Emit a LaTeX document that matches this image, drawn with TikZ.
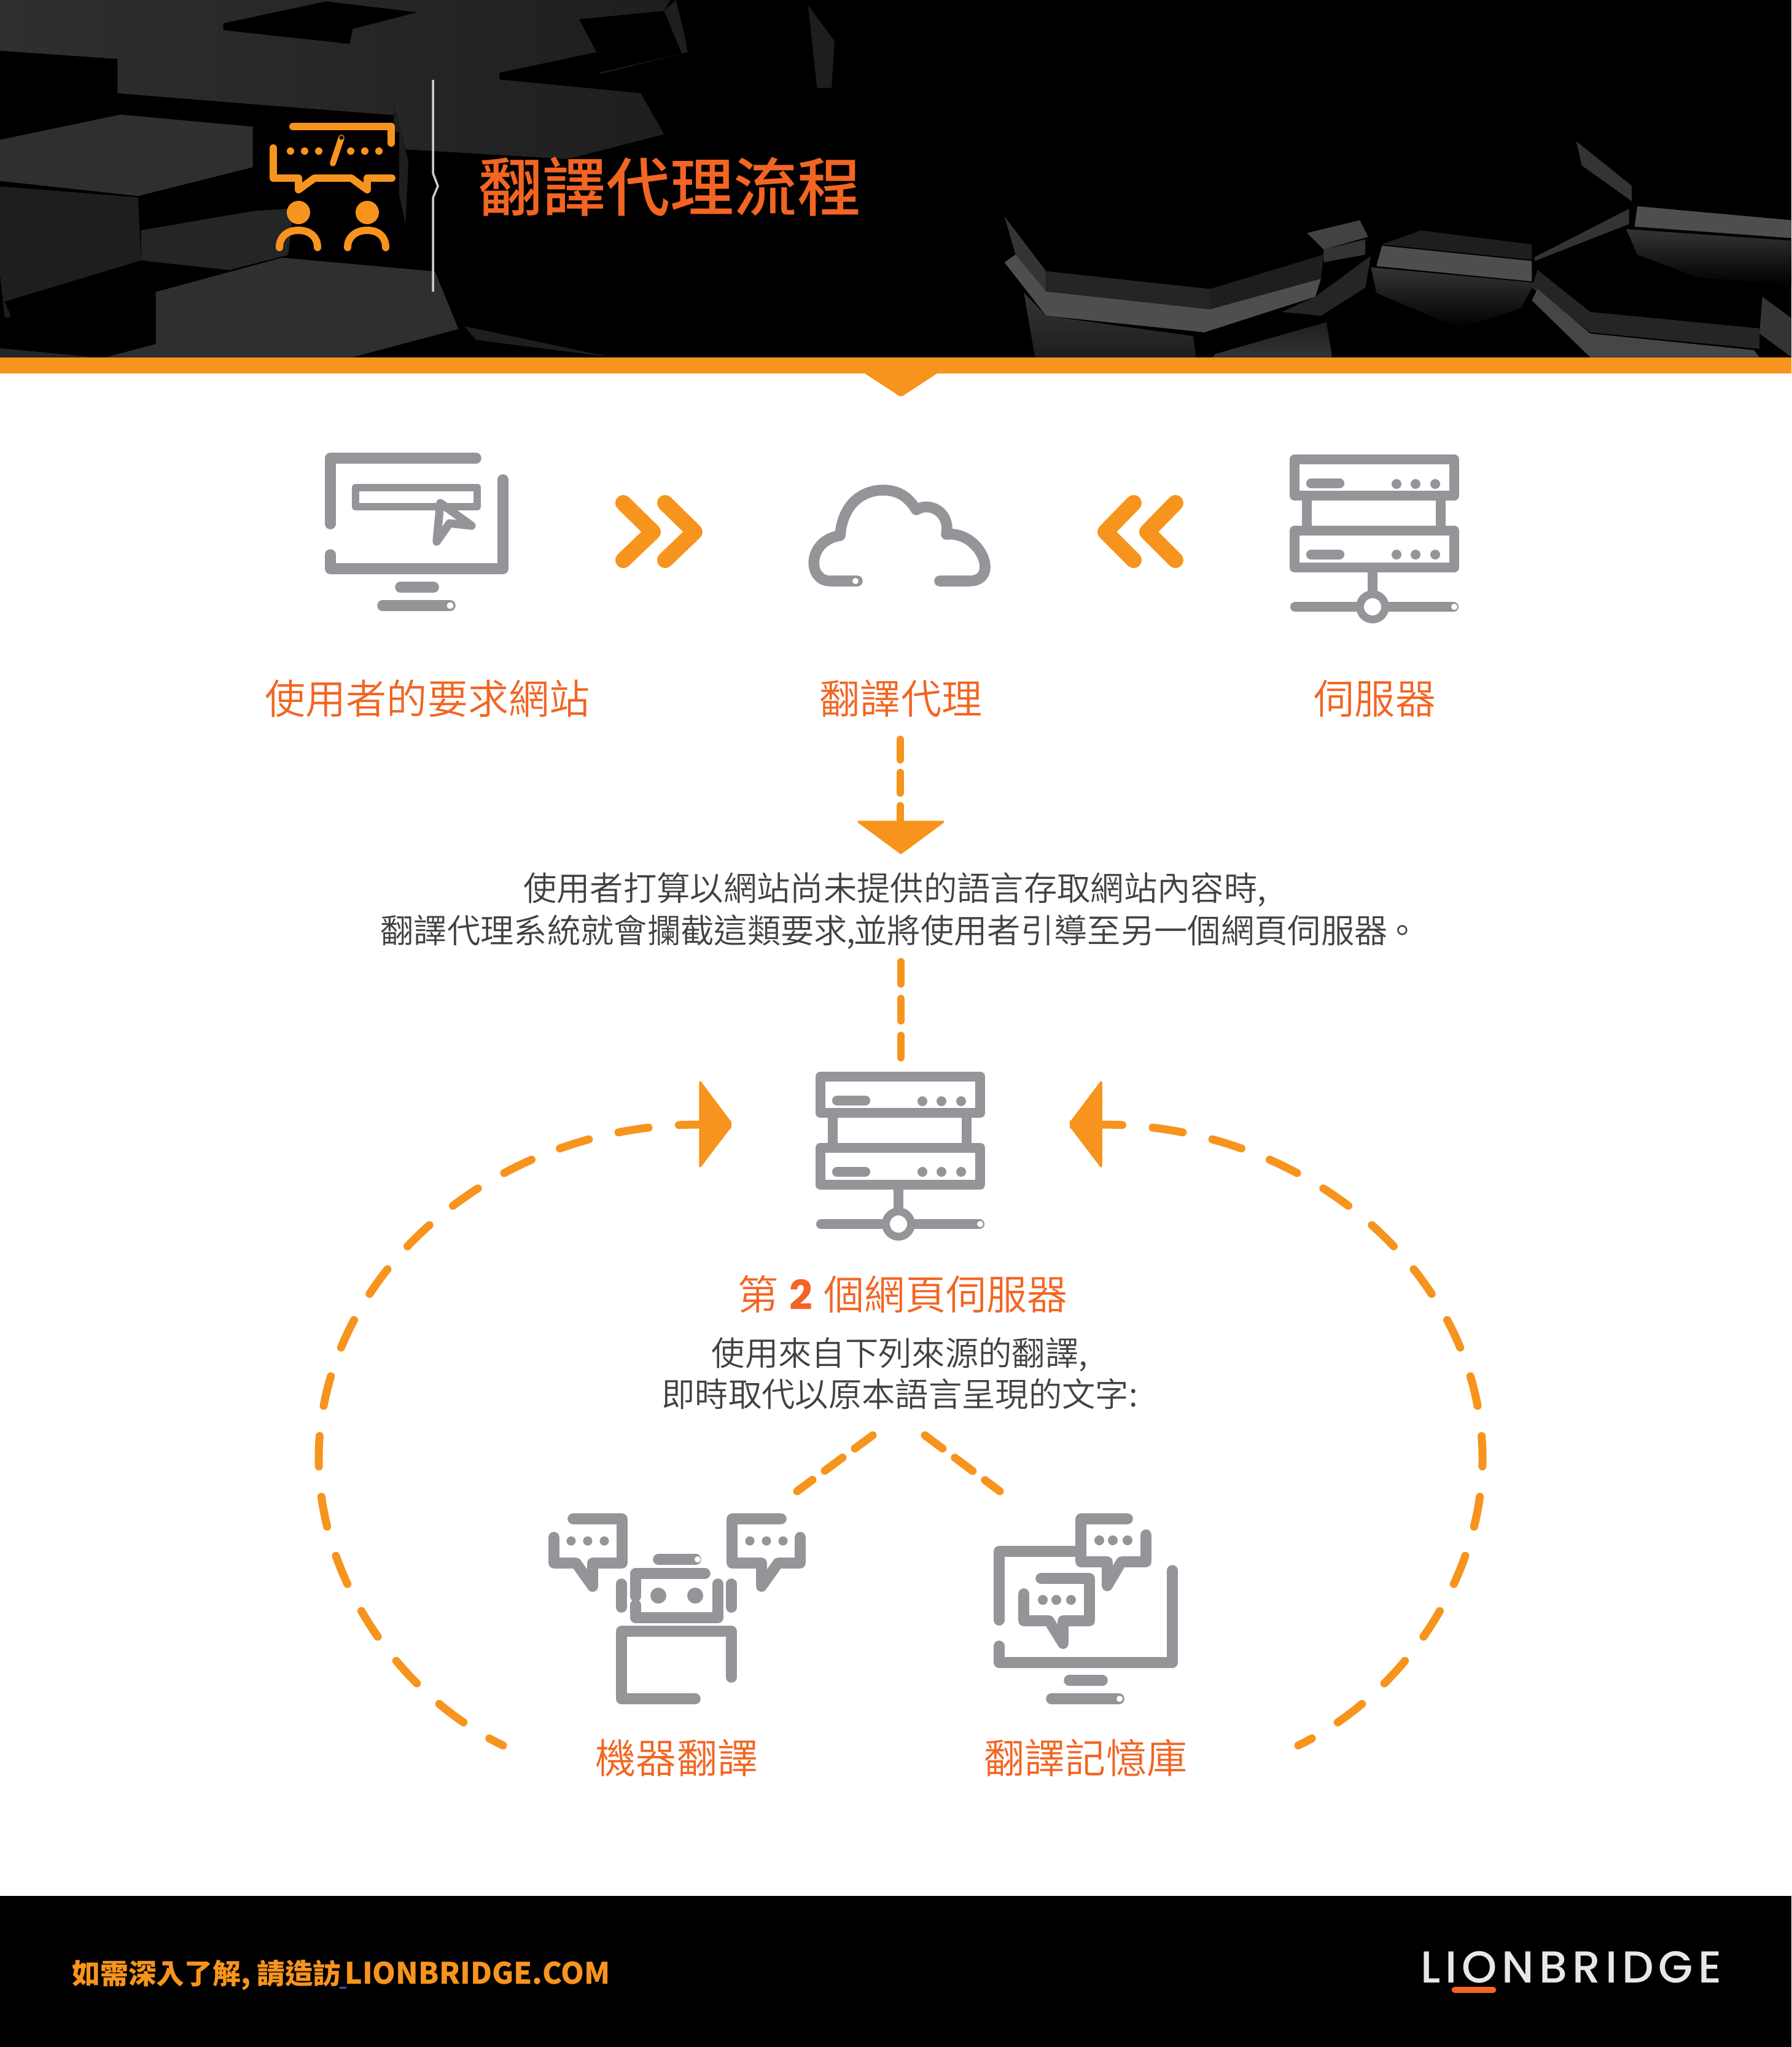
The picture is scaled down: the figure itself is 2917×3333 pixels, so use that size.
\documentclass[tikz,border=0pt]{standalone}
\usepackage{fontspec}
\setmainfont{Noto Sans CJK TC DemiLight}
\newfontfamily\boldcjk{Noto Sans CJK TC}
\newfontfamily\titlefont{Noto Sans CJK TC Medium}
\newfontfamily\lionfont[LetterSpace=11]{Poppins Medium}
\newfontfamily\latinbold{Poppins}
\definecolor{ora}{HTML}{F7941D}
\definecolor{rust}{HTML}{F26522}
\definecolor{gry}{HTML}{939598}
\definecolor{ink}{HTML}{414042}
\definecolor{logow}{HTML}{E6E7E8}
\definecolor{hexa}{HTML}{2E2F30}
\definecolor{hexb}{HTML}{242526}
\definecolor{hexc}{HTML}{4D4E50}
\definecolor{hexd}{HTML}{333435}
\definecolor{hexe}{HTML}{1E1E1F}
\tikzset{
  iconline/.style={draw=gry,line width=4.6pt,line cap=round,line join=round},
  iconthick/.style={draw=gry,line width=5pt,line cap=round,line join=round},
  logoline/.style={draw=ora,line width=3.4pt,line cap=round,line join=round},
  chev/.style={draw=ora,line width=7.4pt,line cap=round,line join=round},
  dashbase/.style={draw=ora,line cap=round},
  dasharc/.style={dashbase,line width=3.7pt,dash pattern=on 14.1pt off 14.1pt,dash phase=7pt},
  dashdown/.style={dashbase,line width=3.5pt,dash pattern=on 9.39pt off 5.97pt},
  dashstem/.style={dashbase,line width=3.5pt,dash pattern=on 10.24pt off 6.83pt},
  dashfork/.style={dashbase,line width=3.7pt,dash pattern=on 10.24pt off 7.11pt},
  arrowfill/.style={fill=ora,draw=ora,line width=1pt,line join=round},
  labeltext/.style={text=rust,font=\fontsize{18.8pt}{22pt}\selectfont,inner sep=0pt,anchor=center},
  bodytext/.style={text=ink,font=\fontsize{15.45pt}{19.1pt}\selectfont,inner sep=0pt,anchor=center,align=center},
  serverpic/.pic={
    \draw[iconline] (7,8) rectangle (267,67);
    \draw[iconline] (7,124) rectangle (267,184);
    \draw[iconline] (27,67) -- (27,124) (245,67) -- (245,124);
    \draw[iconline] (34,47) -- (80,47) (34,163) -- (80,163);
    \foreach \dx in {173,204,236} {
      \fill[gry] (\dx,48) circle (8);
      \fill[gry] (\dx,163) circle (8);
    }
    \draw[iconline] (134,184) -- (134,225);
    \draw[iconline] (8,248) -- (266,248);
    \fill[gry] (134,248) circle (27);
    \fill[white] (134,248) circle (14);
    \fill[white] (267,248) circle (5);
  }
}
\begin{document}
\begin{tikzpicture}[x=0.01cm,y=-0.01cm]
\useasboundingbox (0,0) rectangle (2917,3333);
\fill[white] (0,0) rectangle (2917,3333);
% ---------- header image
\fill[black] (0,0) rectangle (2917,582);
\begin{scope}
\clip (0,0) rectangle (2917,582);
\begin{scope}[xscale=0.957,yscale=0.4464]
\shade[left color=hexa,right color=hexe]
  (0,0)--(1140,0)--(1130,40)--(985,70)--(1015,190)--(850,265)--(850,290)--(1090,340)--(1130,490)--(965,580)
  --(690,545)--(670,380)--(670,420)--(430,380)--(200,340)--(200,215)--(0,185)--cycle;
\fill[black] (380,85)--(555,5)--(710,45)--(600,105)--(595,160)--(380,110)--cycle;
\fill[hexe] (1020,265)--(1160,195)--(1130,40)--(1150,0)--(1165,130)--(1170,190)--(1020,270)--cycle;
\fill[hexa] (0,510)--(205,418)--(430,462)--(430,610)--(235,715)--(0,660)--cycle;
\fill[hexb] (240,840)--(430,770)--(500,760)--(490,930)--(390,985)--(240,950)--cycle;
\fill[hexe] (8,1160)--(260,1055)--(390,990)--(240,950)--(235,720)--(0,680)--(0,1000)--cycle;
\fill[black] (240,950)--(390,990)--(260,1060)--(20,1160)--(8,1100)--cycle;
\fill[hexa] (265,1065)--(480,940)--(740,990)--(780,1200)--(600,1303)--(180,1303)--(265,1255)--cycle;
\fill[hexb] (0,1270)--(160,1303)--(0,1303)--cycle;
\fill[hexe] (790,1190)--(1040,1303)--(810,1240)--cycle;
\fill[hexe] (1375,20)--(1420,150)--(1415,320)--(1390,320)--cycle;
\fill[hexe] (670,380)--(695,590)--(690,820)--(670,620)--cycle;
\end{scope}
\begin{scope}[shift={(1500,0)},xscale=0.904,yscale=0.4146]
\fill[hexd] (150,850)--(225,1065)--(225,1145)--(170,1000)--cycle;
\fill[hexb] (225,1065)--(520,1135)--(520,1215)--(225,1145)--cycle;
\fill[hexe] (520,1135)--(725,1000)--(720,1095)--(520,1215)--cycle;
\fill[hexc] (150,1030)--(170,1000)--(225,1145)--(520,1215)--(720,1095)--(710,1165)--(510,1305)--(225,1240)--cycle;
\shade[top color=hexd,bottom color=hexe] (185,1150)--(225,1240)--(490,1320)--(495,1403)--(205,1403)--cycle;
\shade[top color=hexe,bottom color=hexd] (530,1390)--(730,1265)--(740,1403)--(525,1403)--cycle;
\fill[hexb] (710,1165)--(810,1005)--(800,1130)--(720,1240)--(650,1225)--cycle;
\fill[hexc!85!black] (695,915)--(790,865)--(805,930)--(725,980)--cycle;
\fill[hexd] (725,980)--(800,940)--(800,1000)--(725,1030)--cycle;
\fill[hexe] (900,905)--(1100,960)--(1100,1020)--(830,960)--cycle;
\fill[hexc] (830,965)--(1100,1025)--(1100,1105)--(820,1045)--cycle;
\shade[top color=hexd,bottom color=black] (810,1050)--(1105,1110)--(1080,1210)--(970,1290)--(820,1150)--cycle;
\fill[hexd] (1105,1010)--(1275,820)--(1275,880)--(1105,1025)--cycle;
\fill[hexd] (1180,555)--(1280,730)--(1280,790)--(1190,650)--cycle;
\fill[hexc] (1290,810)--(1568,865)--(1568,935)--(1285,890)--cycle;
\shade[top color=hexd,bottom color=black] (1270,900)--(1568,945)--(1568,1120)--(1400,1090)--(1290,1000)--cycle;
\fill[hexb] (1110,1060)--(1205,1225)--(1510,1290)--(1510,1370)--(1205,1305)--(1100,1130)--cycle;
\fill[hexc!90!black] (1100,1180)--(1110,1135)--(1205,1310)--(1500,1375)--(1510,1403)--(1205,1403)--cycle;
\fill[hexd] (1515,1165)--(1568,1250)--(1568,1403)--(1510,1310)--cycle;
\end{scope}
\end{scope}
% orange band with notch
\fill[ora] (0,582)--(2917,582)--(2917,608)--(1526,608)--(1474,642) arc[start angle=40,end angle=140,radius=9]--(1408,608)--(0,608)--cycle;
% header logo
\fill[black] (430,215) rectangle (650,320);
\draw[logoline] (477,206)--(637,206)--(637,233);
\draw[logoline] (445,241)--(445,290)--(486,290)--(486,309)--(512,290)--(572,290)--(598,309)--(598,290)--(638,290);
\draw[draw=ora,line width=2.8pt,line cap=round] (542,266)--(556,224);
\fill[black] (556,224) circle (3.5);
\foreach \dx in {473,496,519,571,594,617} { \fill[ora] (\dx,246) circle (6); }
\fill[ora] (486,346) circle (19);
\fill[ora] (598,346) circle (19);
\draw[logoline] (455,403) .. controls (455,385) and (468,375) .. (486,375) .. controls (504,375) and (517,385) .. (517,403);
\draw[logoline] (566,403) .. controls (566,385) and (580,375) .. (598,375) .. controls (616,375) and (628,385) .. (628,403);
\draw[draw=white!80!black,line width=1pt] (705,130)--(705,282)--(713,303)--(705,322)--(705,475);
\node[inner sep=0pt,anchor=center,text=rust,font=\fontsize{29.5pt}{30pt}\titlefont] (title) at (1091,304) {翻譯代理流程};
% ---------- first row icons
\draw[iconthick] (538,853)--(538,746)--(775,746);
\draw[iconthick] (538,903)--(538,926)--(819,926)--(819,781);
\draw[iconline,line width=3.5pt] (579,794) rectangle (777,825);
\draw[iconline,line width=3.8pt,fill=white] (717,819)--(768,856)--(732,852)--(711,882)--cycle;
\draw[iconthick] (652,956)--(706,956);
\draw[iconthick] (623,986)--(733,986);
\fill[white] (733,986) circle (5.5);
\draw[chev] (1015,819)--(1063,866)--(1015,912);
\draw[chev] (1083,819)--(1131,866)--(1083,912);
\draw[chev] (1846,819)--(1800,866)--(1846,912);
\draw[chev] (1914,819)--(1868,866)--(1914,912);
\draw[iconthick] (1396,946)--(1352,946) .. controls (1314,946) and (1314,880) .. (1368,872) .. controls (1372,820) and (1405,798) .. (1438,798) .. controls (1465,798) and (1480,811) .. (1492,830) .. controls (1515,816) and (1548,835) .. (1541,870) .. controls (1597,864) and (1630,946) .. (1578,946)--(1530,946);
\fill[white] (1393,946) circle (5);
\pic at (2101,740) {serverpic};
% ---------- labels
\node[labeltext] (lblsite) at (696,1137) {使用者的要求網站};
\node[labeltext] (lblproxy) at (1467,1137) {翻譯代理};
\node[labeltext] (lblserver) at (2239,1137) {伺服器};
% ---------- connector 1
\coordinate (downstart) at (1466,1204);
\coordinate (downend) at (1466,1340);
\draw[dashdown] (downstart)--(downend);
\fill[arrowfill] (1398,1338)--(1536,1338)--(1467,1389)--cycle;
\node[bodytext] (bodyone) at (1457,1449) {使用者打算以網站尚未提供的語言存取網站內容時,};
\node[bodytext] (bodyonetwo) at (1465,1517) {翻譯代理系統就會攔截這類要求\hspace{-0.6pt},\hspace{-0.6pt}並將使用者引導至另一個網頁伺服器\hspace{-1pt}。};
\coordinate (stemstart) at (1467,1566);
\coordinate (stemend) at (1467,1724);
\draw[dashstem] (stemstart)--(stemend);
\pic at (1329,1745) {serverpic};
% ---------- big arcs
\coordinate (arcLbot) at (819,2842);
\coordinate (arcLmid) at (519,2375);
\coordinate (arcLtop) at (1139,1831);
\coordinate (arcRbot) at (2114,2842);
\coordinate (arcRmid) at (2414,2375);
\coordinate (arcRtop) at (1794,1831);
\draw[dasharc] (arcLbot) .. controls (650,2760) and (519,2570) .. (arcLmid) .. controls (519,2080) and (800,1831) .. (arcLtop);
\draw[dasharc] (arcRbot) .. controls (2283,2760) and (2414,2570) .. (arcRmid) .. controls (2414,2080) and (2133,1831) .. (arcRtop);
\fill[arrowfill] (1140,1762)--(1188,1826) to[out=60,in=-60] (1188,1836)--(1140,1899)--cycle;
\fill[arrowfill] (1793,1762)--(1745,1826) to[out=120,in=-120] (1745,1836)--(1793,1899)--cycle;
% ---------- central text
\node[inner sep=0pt,anchor=center,text=rust,font=\fontsize{18.8pt}{22pt}\selectfont] (secondserver) at (1470,2107) {第\hspace{1pt} {\latinbold\bfseries 2}\hspace{1pt} 個網頁伺服器};
\node[bodytext] (bodytwo) at (1465,2236) {使用來自下列來源的翻譯,\\即時取代以原本語言呈現的文字:};
% ---------- fork
\coordinate (forkL) at (1421,2337);
\coordinate (forkLend) at (1298,2428);
\coordinate (forkR) at (1506,2337);
\coordinate (forkRend) at (1628,2428);
\draw[dashfork] (forkL)--(forkLend);
\draw[dashfork] (forkR)--(forkRend);
% ---------- machine translation icon
\draw[iconthick] (902,2503)--(902,2545)--(938,2545)--(965,2583)--(965,2545)--(1013,2545)--(1013,2473)--(933,2473);
\foreach \dx in {930,957,984} { \fill[gry] (\dx,2509) circle (7.5); }
\begin{scope}[shift={(2205,0)},xscale=-1]
\draw[iconthick] (902,2503)--(902,2545)--(938,2545)--(965,2583)--(965,2545)--(1013,2545)--(1013,2473)--(933,2473);
\foreach \dx in {930,957,984} { \fill[gry] (\dx,2509) circle (7.5); }
\end{scope}
\draw[iconthick] (1035,2599)--(1035,2562)--(1148,2562);
\draw[iconthick] (1035,2613)--(1035,2634)--(1169,2634)--(1169,2579);
\draw[iconthick] (1012,2579)--(1012,2617);
\draw[iconthick] (1191,2579)--(1191,2617);
\draw[iconthick] (1072,2539)--(1133,2539);
\fill[white] (1136,2539) circle (5);
\fill[gry] (1072,2598) circle (13);
\fill[gry] (1132,2598) circle (13);
\draw[iconthick] (1132,2766)--(1012,2766)--(1012,2656)--(1191,2656)--(1191,2731);
% ---------- translation memory icon
\draw[iconthick] (1753,2526)--(1627,2526)--(1627,2638);
\draw[iconthick] (1627,2680)--(1627,2707)--(1909,2707)--(1909,2557);
\draw[iconthick] (1741,2736)--(1795,2736);
\draw[iconthick] (1712,2766)--(1822,2766);
\fill[white] (1823,2766) circle (5);
\draw[iconthick] (1866,2499)--(1866,2543)--(1826,2543)--(1803,2582)--(1803,2543)--(1760,2543)--(1760,2473)--(1836,2473);
\foreach \dx in {1790,1812,1836} { \fill[gry] (\dx,2508) circle (8); }
\draw[iconthick] (1695,2570)--(1774,2570)--(1774,2639)--(1731,2639)--(1731,2676)--(1708,2639)--(1667,2639)--(1667,2595);
\foreach \dx in {1698,1720,1744} { \fill[gry] (\dx,2605) circle (8); }
\node[labeltext] (lblmt) at (1102,2862) {機器翻譯};
\node[labeltext] (lbltm) at (1768,2862) {翻譯記憶庫};
% ---------- footer
\fill[black] (0,3087) rectangle (2917,3333);
\node[inner sep=0pt,anchor=west,text=ora,font=\fontsize{13pt}{15pt}\boldcjk\bfseries] (footer) at (117,3216) {如需深入了解, 請造訪\hspace{1.6pt}{\fontsize{13.7pt}{15pt}\selectfont LIONBRIDGE.COM}};
\fill[blue!40!gray] (553,3235) rectangle (564,3238);
\node[inner sep=0pt,anchor=east,text=logow,font=\fontsize{20.7pt}{22pt}\lionfont] (brand) at (2804,3203) {LIONBRIDGE};
\draw[draw=rust,line width=3pt,line cap=round] (2369,3240)--(2431,3240);
\end{tikzpicture}
\end{document}
